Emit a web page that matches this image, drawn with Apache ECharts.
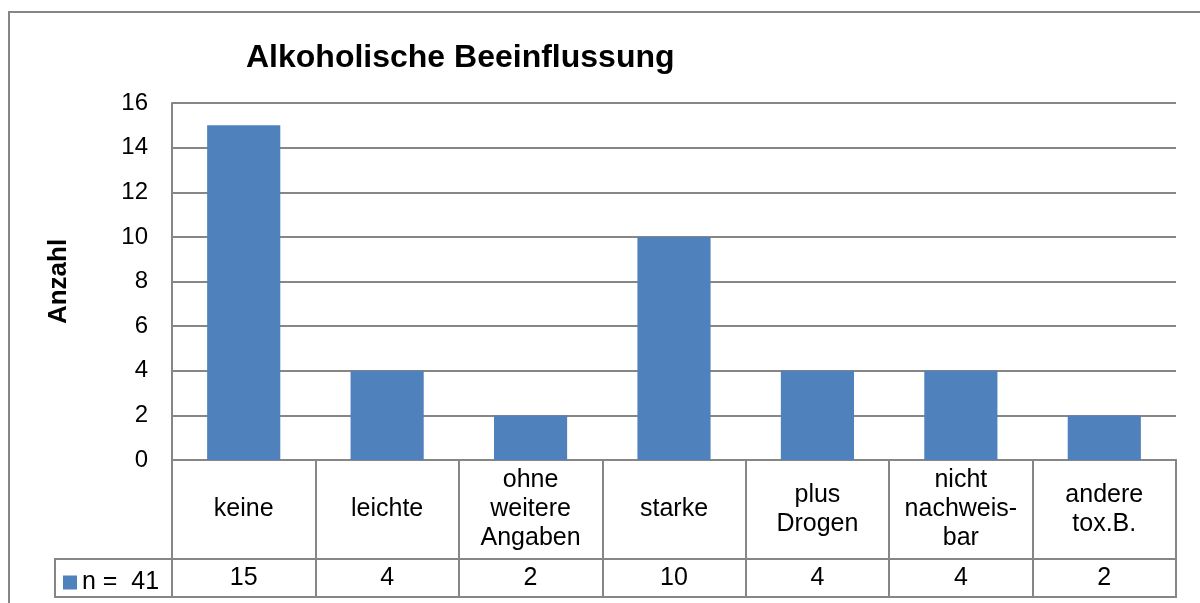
<!DOCTYPE html>
<html>
<head>
<meta charset="utf-8">
<script src="https://cdn.jsdelivr.net/npm/echarts@6/dist/echarts.min.js"></script>
<style>
  html, body { margin: 0; padding: 0; background: #fff; }
  #chart { width: 1200px; height: 603px; }
</style>
</head>
<body>
<div id="chart"></div>
<script>
// data
const categories = ['keine', 'leichte', 'ohne\nweitere\nAngaben', 'starke', 'plus\nDrogen', 'nicht\nnachweis-\nbar', 'andere\ntox.B.'];
const counts = [15, 4, 2, 10, 4, 4, 2];
const seriesName = 'n =  41';
const yTicks = { min: 0, max: 16, interval: 2 };

const font = 'Liberation Sans, Arial, sans-serif';
const lineGray = '#868686';
const barBlue = '#4F81BD';

const chart = echarts.init(document.getElementById('chart'));

const hiddenValueAxis = (gridIndex) => ({
  type: 'value', gridIndex: gridIndex, min: 0, max: 1, show: false
});
const tableCatAxis = (gridIndex) => ({
  type: 'category', gridIndex: gridIndex, data: categories, boundaryGap: true,
  axisLine: { show: false }, axisTick: { show: false }, axisLabel: { show: false },
  splitLine: { show: true, lineStyle: { color: lineGray, width: 2 } }
});

const option = {
  backgroundColor: '#fff',
  animation: false,
  title: {
    text: 'Alkoholische Beeinflussung',
    left: 241, top: 37,
    textStyle: { fontFamily: font, fontSize: 32, fontWeight: 'bold', color: '#000' }
  },
  legend: {
    data: [seriesName],
    left: 58, top: 565,
    icon: 'rect', itemWidth: 14, itemHeight: 14, itemGap: 6,
    textStyle: { fontFamily: font, fontSize: 25, color: '#000' },
    selectedMode: false
  },
  graphic: [{
    type: 'rect', silent: true,
    shape: { x: 9, y: 12, width: 1210, height: 620 },
    style: { fill: 'none', stroke: lineGray, lineWidth: 2 }
  }],
  grid: [
    { left: 172, top: 103, width: 1004, height: 357, show: false },
    { left: 172, top: 460, width: 1004, height: 99, show: true, borderColor: lineGray, borderWidth: 2 },
    { left: 172, top: 559, width: 1004, height: 38, show: true, borderColor: lineGray, borderWidth: 2 },
    { left: 55, top: 559, width: 117, height: 38, show: true, borderColor: lineGray, borderWidth: 2 }
  ],
  xAxis: [
    {
      type: 'category', gridIndex: 0, data: categories,
      axisLine: { show: true, lineStyle: { color: lineGray, width: 2 } },
      axisTick: { show: false }, axisLabel: { show: false }
    },
    tableCatAxis(1),
    tableCatAxis(2),
    { type: 'category', gridIndex: 3, data: [seriesName], show: false }
  ],
  yAxis: [
    {
      type: 'value', gridIndex: 0,
      min: yTicks.min, max: yTicks.max, interval: yTicks.interval,
      name: 'Anzahl', nameLocation: 'middle', nameRotate: 90, nameGap: 100,
      nameTextStyle: { fontFamily: font, fontSize: 26, fontWeight: 'bold', color: '#000' },
      axisLine: { show: true, lineStyle: { color: lineGray, width: 2 } },
      axisTick: { show: false },
      axisLabel: { fontFamily: font, fontSize: 24, color: '#000', margin: 24 },
      splitLine: { show: true, lineStyle: { color: lineGray, width: 2 } }
    },
    hiddenValueAxis(1),
    hiddenValueAxis(2),
    hiddenValueAxis(3)
  ],
  series: [
    {
      name: seriesName, type: 'bar', xAxisIndex: 0, yAxisIndex: 0,
      data: counts, barCategoryGap: '49%',
      itemStyle: { color: barBlue }
    },
    {
      type: 'scatter', xAxisIndex: 1, yAxisIndex: 1, symbolSize: 0, silent: true,
      itemStyle: { opacity: 1 },
      data: categories.map((c) => [c, 0.5]),
      label: {
        show: true, position: 'inside', formatter: (p) => p.value[0],
        fontFamily: font, fontSize: 25, color: '#000', lineHeight: 29, align: 'center',
        textBorderWidth: 0
      }
    },
    {
      type: 'scatter', xAxisIndex: 2, yAxisIndex: 2, symbolSize: 0, silent: true,
      itemStyle: { opacity: 1 },
      data: categories.map((c, i) => [c, 0.5, counts[i]]),
      label: {
        show: true, position: 'inside', formatter: (p) => String(p.value[2]),
        fontFamily: font, fontSize: 25, color: '#000', textBorderWidth: 0
      }
    }
  ]
};

chart.setOption(option);
</script>
</body>
</html>
